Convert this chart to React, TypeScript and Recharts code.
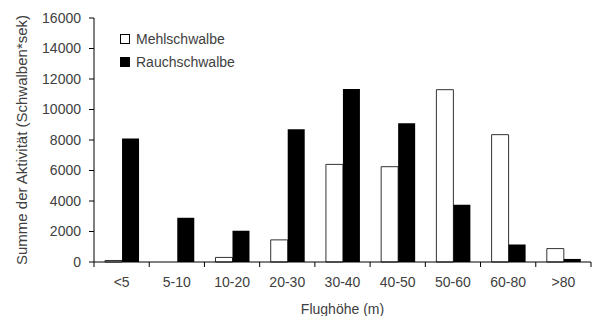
import { BarChart, Bar, XAxis, YAxis } from "recharts";

// Flight-height classes and activity sums per swallow species
const heights = ["<5", "5-10", "10-20", "20-30", "30-40", "40-50", "50-60", "60-80", ">80"];
const mehlschwalbe = [100, 0, 300, 1450, 6400, 6250, 11300, 8350, 880];
const rauchschwalbe = [8100, 2900, 2050, 8700, 11350, 9100, 3750, 1150, 200];
const yTicks = [0, 2000, 4000, 6000, 8000, 10000, 12000, 14000, 16000];

const data = heights.map((h, i) => ({ h, mehl: mehlschwalbe[i], rauch: rauchschwalbe[i] }));

const FONT = "'Liberation Sans', Arial, sans-serif";
const TEXT = "#404040";

// x ticks sit between categories, so draw them at the band edges
function BandTick(props: any) {
  const { x, y, payload, index } = props;
  const half = payload.offset || 0;
  const top = y - 8;
  return (
    <g>
      <line x1={x - half} y1={top} x2={x - half} y2={top + 5} stroke="#000" />
      {index === heights.length - 1 && (
        <line x1={x + half} y1={top} x2={x + half} y2={top + 5} stroke="#000" />
      )}
      <text x={x} y={y + 17} textAnchor="middle" fill={TEXT} fontSize={14} fontFamily={FONT}>
        {payload.value}
      </text>
    </g>
  );
}

// rotated y title, centred on the plot height
function YTitle(props: any) {
  const vb = props.viewBox || {};
  const cx = (vb.x || 0) + 21;
  const cy = (vb.y || 0) + (vb.height || 0) / 2;
  return (
    <text
      x={cx}
      y={cy}
      transform={`rotate(-90, ${cx}, ${cy})`}
      textAnchor="middle"
      dominantBaseline="central"
      fill={TEXT}
      fontSize={15}
      fontFamily={FONT}
    >
      Summe der Aktivität (Schwalben*sek)
    </text>
  );
}

// legend lives over the plot, top-left (a recharts Legend would steal axis space)
function SwallowLegend() {
  const items = [
    { name: "Mehlschwalbe", fill: "#fff" },
    { name: "Rauchschwalbe", fill: "#000" },
  ];
  return (
    <div style={{ position: "absolute", left: 120, top: 27, fontFamily: FONT, fontSize: 14, color: TEXT }}>
      {items.map((it) => (
        <div key={it.name} style={{ display: "flex", alignItems: "center", height: 23 }}>
          <span
            style={{
              width: 8,
              height: 8,
              background: it.fill,
              border: "1px solid #000",
              display: "inline-block",
              marginRight: 6,
            }}
          />
          {it.name}
        </div>
      ))}
    </div>
  );
}

export default function App() {
  return (
    <div style={{ position: "absolute", left: 0, top: 0, width: 595, height: 316, background: "#fff" }}>
      <BarChart
        width={595}
        height={316}
        data={data}
        margin={{ top: 18, right: 4, bottom: 0, left: 0 }}
        barCategoryGap="20%"
        barGap={0}
      >
        <XAxis
          dataKey="h"
          height={54}
          axisLine={{ stroke: "#000" }}
          tickLine={false}
          tick={<BandTick />}
          interval={0}
          label={{
            value: "Flughöhe (m)",
            position: "insideBottom",
            offset: 2,
            fill: TEXT,
            fontSize: 14,
            fontFamily: FONT,
          }}
        />
        <YAxis
          width={94}
          domain={[0, 16000]}
          ticks={yTicks}
          interval={0}
          axisLine={{ stroke: "#000" }}
          tickLine={{ stroke: "#000" }}
          tickSize={5}
          tickMargin={8}
          tick={{ fill: TEXT, fontSize: 14, fontFamily: FONT }}
          label={<YTitle />}
        />
        <Bar dataKey="mehl" name="Mehlschwalbe" fill="#fff" stroke="#333" strokeWidth={1} isAnimationActive={false} />
        <Bar dataKey="rauch" name="Rauchschwalbe" fill="#000" isAnimationActive={false} />
      </BarChart>
      <SwallowLegend />
    </div>
  );
}
